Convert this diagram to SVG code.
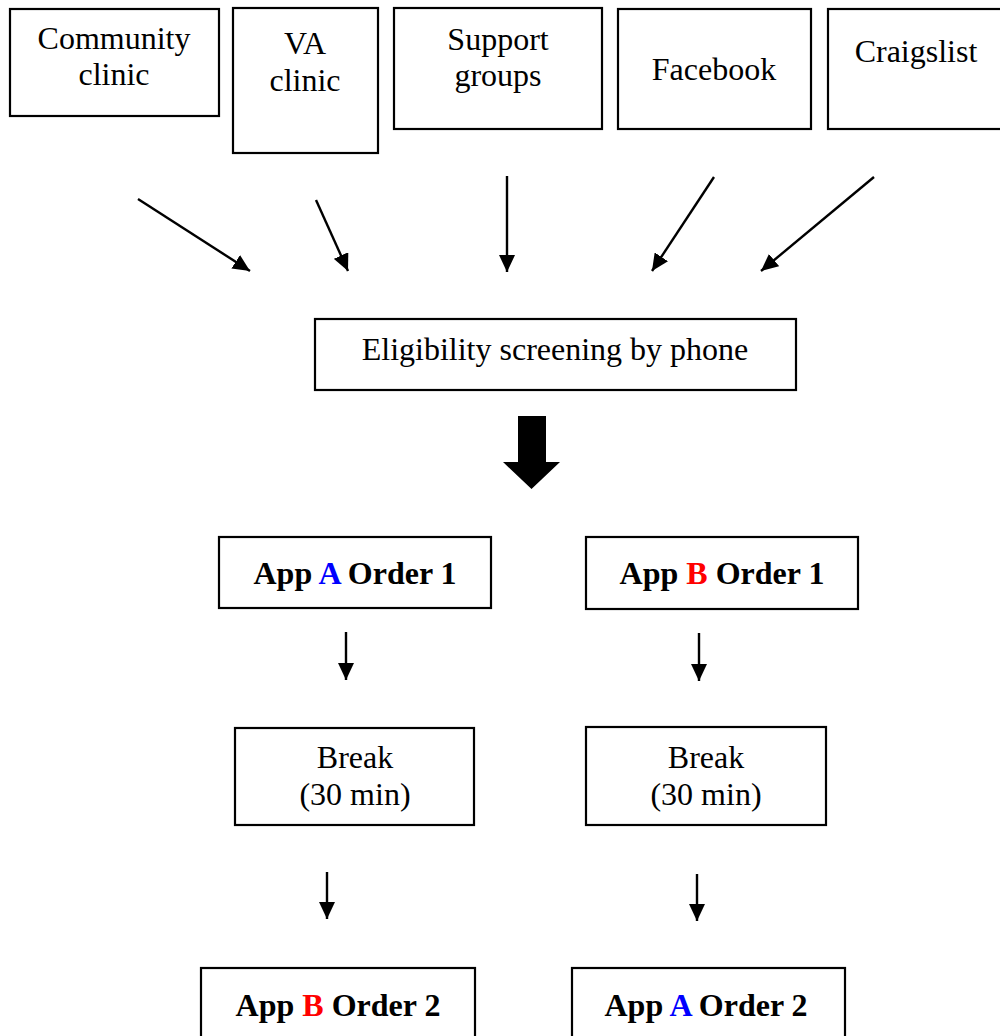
<svg xmlns="http://www.w3.org/2000/svg" width="1000" height="1036" viewBox="0 0 1000 1036">
<style>
.box{fill:#fff;stroke:#000;stroke-width:2.2}
.t{font-family:"Liberation Serif","Times New Roman",serif;font-size:32px;fill:#000;text-anchor:middle}
.b{font-weight:bold}
.ln{stroke:#000;stroke-width:2.4;fill:none;marker-end:url(#ah)}
.blue{fill:#0000ff}
.red{fill:#ff0000}
</style>
<defs>
<marker id="ah" viewBox="0 0 17 16" refX="17" refY="8" markerWidth="17" markerHeight="16" markerUnits="userSpaceOnUse" orient="auto">
<path d="M0,0 L17,8 L0,16 Z" fill="#000"/>
</marker>
</defs>
<rect width="1000" height="1036" fill="#fff"/>
<g id="community">
<rect class="box" x="10" y="9" width="209" height="107"/>
<text class="t" x="114" y="49">Community</text>
<text class="t" x="114" y="85">clinic</text>
</g>
<g id="va">
<rect class="box" x="233" y="8" width="145" height="145"/>
<text class="t" x="305" y="54">VA</text>
<text class="t" x="305" y="91">clinic</text>
</g>
<g id="support">
<rect class="box" x="394" y="8" width="208" height="121"/>
<text class="t" x="498" y="50">Support</text>
<text class="t" x="498" y="86">groups</text>
</g>
<g id="facebook">
<rect class="box" x="618" y="9" width="193" height="120"/>
<text class="t" x="714" y="80">Facebook</text>
</g>
<g id="craigslist">
<rect class="box" x="828" y="9" width="180" height="120"/>
<text class="t" x="916" y="62">Craigslist</text>
</g>
<g id="screening">
<rect class="box" x="315" y="319" width="481" height="71"/>
<text class="t" x="555" y="360">Eligibility screening by phone</text>
</g>
<g id="appA1">
<rect class="box" x="219" y="537" width="272" height="71"/>
<text class="t b" x="355" y="584">App <tspan class="blue">A</tspan> Order 1</text>
</g>
<g id="appB1">
<rect class="box" x="586" y="537" width="272" height="72"/>
<text class="t b" x="722" y="584">App <tspan class="red">B</tspan> Order 1</text>
</g>
<g id="break1">
<rect class="box" x="235" y="728" width="239" height="97"/>
<text class="t" x="355" y="768">Break</text>
<text class="t" x="355" y="805">(30 min)</text>
</g>
<g id="break2">
<rect class="box" x="586" y="727" width="240" height="98"/>
<text class="t" x="706" y="768">Break</text>
<text class="t" x="706" y="805">(30 min)</text>
</g>
<g id="appB2">
<rect class="box" x="201" y="968" width="274" height="80"/>
<text class="t b" x="338" y="1016">App <tspan class="red">B</tspan> Order 2</text>
</g>
<g id="appA2">
<rect class="box" x="572" y="968" width="273" height="80"/>
<text class="t b" x="706" y="1016">App <tspan class="blue">A</tspan> Order 2</text>
</g>
<g id="connectors">
<line class="ln" x1="138" y1="199" x2="250" y2="271"/>
<line class="ln" x1="316" y1="200" x2="348" y2="271"/>
<line class="ln" x1="507" y1="176" x2="507" y2="272"/>
<line class="ln" x1="714" y1="177" x2="652" y2="271"/>
<line class="ln" x1="874" y1="177" x2="761" y2="271"/>
<path d="M518,416 H546 V462 H560 L531.5,489 L503,462 H518 Z" fill="#000"/>
<line class="ln" x1="346" y1="632" x2="346" y2="680"/>
<line class="ln" x1="699" y1="633" x2="699" y2="681"/>
<line class="ln" x1="327" y1="872" x2="327" y2="919"/>
<line class="ln" x1="697" y1="874" x2="697" y2="921"/>
</g>
</svg>
